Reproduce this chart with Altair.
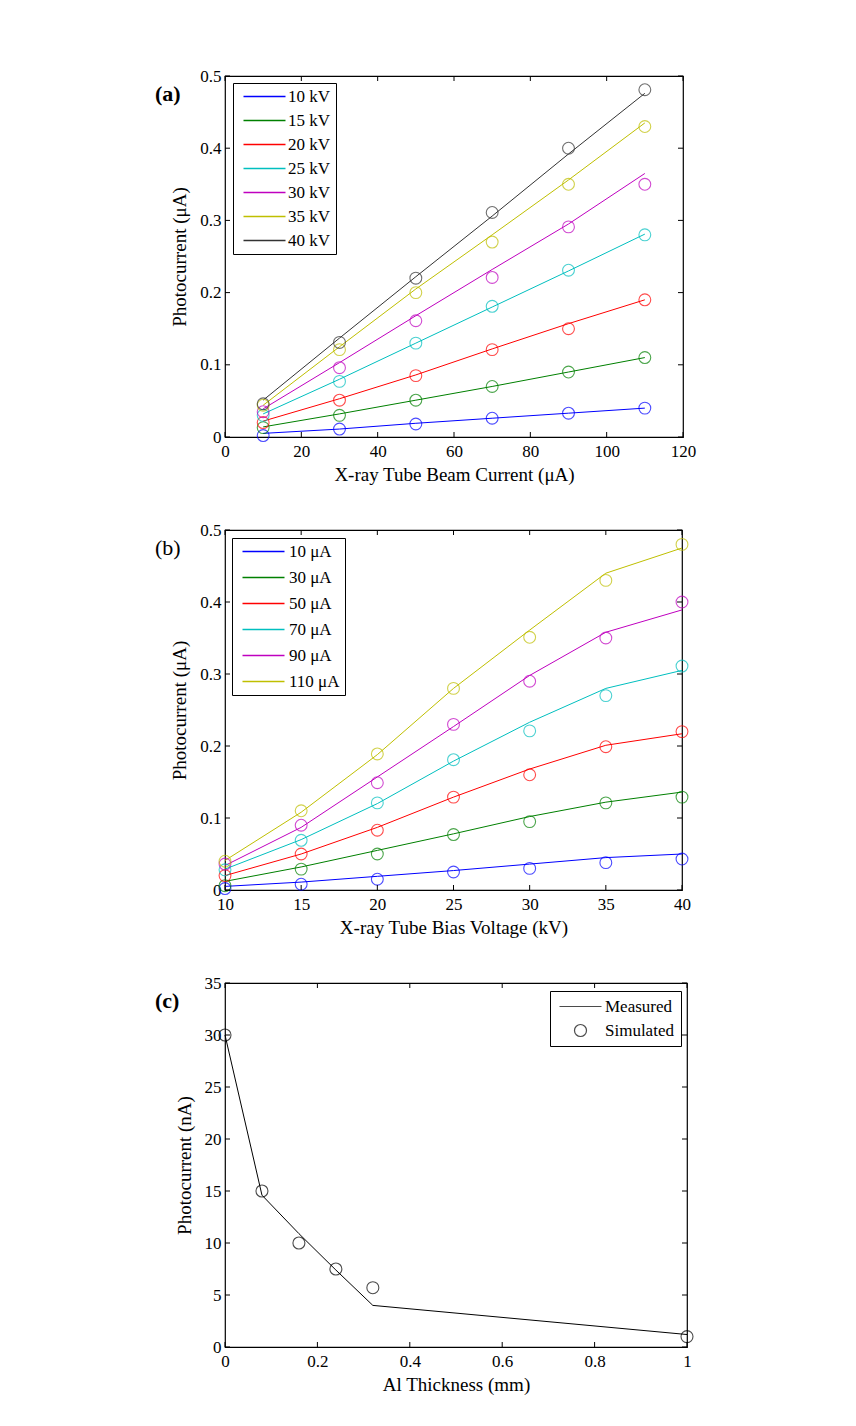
import altair as alt
import pandas as pd

FONT = "Liberation Serif"

# ---------------- Panel (a) ----------------
a_current = [10, 30, 50, 70, 90, 110]
a_series = ["10 kV", "15 kV", "20 kV", "25 kV", "30 kV", "35 kV", "40 kV"]
a_circles = [
    [0.002, 0.011, 0.018, 0.026, 0.033, 0.040],
    [0.013, 0.030, 0.051, 0.070, 0.090, 0.110],
    [0.020, 0.051, 0.085, 0.121, 0.150, 0.190],
    [0.030, 0.077, 0.130, 0.181, 0.231, 0.280],
    [0.035, 0.096, 0.161, 0.221, 0.291, 0.350],
    [0.044, 0.121, 0.200, 0.270, 0.350, 0.430],
    [0.046, 0.131, 0.220, 0.311, 0.400, 0.481],
]
a_lines = [
    [0.005, 0.011, 0.019, 0.026, 0.033, 0.040],
    [0.014, 0.032, 0.051, 0.070, 0.090, 0.110],
    [0.022, 0.053, 0.086, 0.122, 0.157, 0.190],
    [0.032, 0.080, 0.130, 0.180, 0.230, 0.281],
    [0.039, 0.103, 0.168, 0.232, 0.295, 0.365],
    [0.044, 0.125, 0.205, 0.280, 0.356, 0.435],
    [0.051, 0.137, 0.222, 0.306, 0.392, 0.476],
]
a_xticks = [0, 20, 40, 60, 80, 100, 120]
a_yticks = [0, 0.1, 0.2, 0.3, 0.4, 0.5]

# ---------------- Panel (b) ----------------
b_voltage = [10, 15, 20, 25, 30, 35, 40]
b_series = ["10 μA", "30 μA", "50 μA", "70 μA", "90 μA", "110 μA"]
b_circles = [
    [0.002, 0.008, 0.015, 0.025, 0.030, 0.038, 0.043],
    [0.006, 0.029, 0.050, 0.077, 0.095, 0.121, 0.129],
    [0.020, 0.050, 0.083, 0.129, 0.160, 0.199, 0.220],
    [0.028, 0.069, 0.121, 0.181, 0.221, 0.270, 0.311],
    [0.036, 0.090, 0.149, 0.230, 0.290, 0.350, 0.400],
    [0.040, 0.110, 0.189, 0.280, 0.351, 0.430, 0.480],
]
b_lines = [
    [0.005, 0.011, 0.019, 0.027, 0.036, 0.045, 0.050],
    [0.012, 0.032, 0.055, 0.078, 0.102, 0.122, 0.136],
    [0.020, 0.050, 0.087, 0.129, 0.168, 0.201, 0.217],
    [0.029, 0.070, 0.120, 0.179, 0.233, 0.280, 0.305],
    [0.034, 0.087, 0.157, 0.227, 0.298, 0.358, 0.389],
    [0.041, 0.108, 0.188, 0.280, 0.361, 0.440, 0.475],
]
b_xticks = [10, 15, 20, 25, 30, 35, 40]
b_yticks = [0, 0.1, 0.2, 0.3, 0.4, 0.5]

# ---------------- Panel (c) ----------------
c_thick_meas = [0, 0.08, 0.16, 0.24, 0.32, 1.0]
c_measured = [30.0, 14.6, 10.9, 7.4, 4.0, 1.2]
c_thick_sim = [0, 0.08, 0.16, 0.24, 0.32, 1.0]
c_simulated = [30.0, 15.0, 10.0, 7.5, 5.7, 1.0]
c_series = ["Measured", "Simulated"]
c_xticks = [0, 0.2, 0.4, 0.6, 0.8, 1.0]
c_yticks = [0, 5, 10, 15, 20, 25, 30, 35]

colors7 = ["#0000ff", "#008000", "#ff0000", "#00bfbf", "#bf00bf", "#bfbf00", "#333333"]
colors6 = colors7[:6]

DEC_EXPR = "datum.value == 0 ? '0' : datum.value == 1 ? '1' : format(datum.value, '.1f')"


def long_df(xs, series, values):
    rows = []
    for name, vals in zip(series, values):
        for x, v in zip(xs, vals):
            rows.append({"x": x, "y": v, "s": name})
    return pd.DataFrame(rows)


def axis_x(title, values, label_expr=None):
    kw = dict(title=title, values=values, domain=False, ticks=False, grid=False,
              labelFont=FONT, labelFontSize=17, labelColor="black", labelPadding=6,
              labelFlush=False, labelOverlap=False,
              titleFont=FONT, titleFontSize=19, titleFontWeight="normal",
              titleColor="black", titlePadding=6)
    if label_expr:
        kw["labelExpr"] = label_expr
    return alt.Axis(**kw)


def axis_y(title, values, label_expr=None):
    kw = dict(title=title, values=values, domain=False, ticks=False, grid=False,
              labelFont=FONT, labelFontSize=17, labelColor="black", labelPadding=4,
              labelFlush=False, labelOverlap=False,
              titleFont=FONT, titleFontSize=19, titleFontWeight="normal",
              titleColor="black", titlePadding=10)
    if label_expr:
        kw["labelExpr"] = label_expr
    return alt.Axis(**kw)


def inward_ticks(xvals, yvals, xs, ys, ax, ay, W, H, L=5):
    dx = pd.DataFrame({"v": xvals})
    dy = pd.DataFrame({"v": yvals})
    X = alt.X("v:Q", scale=xs, axis=ax)
    Y = alt.Y("v:Q", scale=ys, axis=ay)
    rc = dict(color="black", strokeWidth=1)
    bottom = alt.Chart(dx).mark_rule(**rc).encode(x=X, y=alt.value(H), y2=alt.value(H - L))
    top = alt.Chart(dx).mark_rule(**rc).encode(x=X, y=alt.value(0), y2=alt.value(L))
    left = alt.Chart(dy).mark_rule(**rc).encode(y=Y, x=alt.value(0), x2=alt.value(L))
    right = alt.Chart(dy).mark_rule(**rc).encode(y=Y, x=alt.value(W), x2=alt.value(W - L))
    return [bottom, top, left, right]


def tag(text, bold):
    return alt.Chart(pd.DataFrame({"t": [text]})).mark_text(
        font=FONT, fontSize=22, fontWeight="bold" if bold else "normal",
        align="left", baseline="middle", color="black"
    ).encode(text="t:N", x=alt.value(-70), y=alt.value(18))


def series_panel(xs_vals, series, circles, lines, colors, xdom, ydom, xticks, yticks,
                 xtitle, ytitle, W, H, legend_kw, label, bold):
    xs = alt.Scale(domain=xdom, nice=False, zero=False)
    ys = alt.Scale(domain=ydom, nice=False, zero=False)
    ax = axis_x(xtitle, xticks)
    ay = axis_y(ytitle, yticks, DEC_EXPR)
    dl = long_df(xs_vals, series, lines)
    dc = long_df(xs_vals, series, circles)
    line = alt.Chart(dl).mark_line(strokeWidth=1).encode(
        x=alt.X("x:Q", scale=xs, axis=ax),
        y=alt.Y("y:Q", scale=ys, axis=ay),
        color=alt.Color("s:N", scale=alt.Scale(domain=series, range=colors), sort=series,
                        legend=alt.Legend(title=None, orient="none", strokeColor="black",
                                          fillColor="white", symbolType="M-0.5,0L6.5,0",
                                          symbolSize=144, symbolStrokeWidth=1.3,
                                          labelFont=FONT, labelFontSize=17, labelColor="black",
                                          **legend_kw)),
        detail="s:N",
    )
    pts = alt.Chart(dc).mark_point(filled=False, size=140, strokeWidth=1.1).encode(
        x=alt.X("x:Q", scale=xs, axis=ax),
        y=alt.Y("y:Q", scale=ys, axis=ay),
        stroke=alt.Stroke("s:N", scale=alt.Scale(domain=series, range=colors), legend=None),
    )
    layers = [line, pts] + inward_ticks(xticks, yticks, xs, ys, ax, ay, W, H) + [tag(label, bold)]
    return alt.layer(*layers).properties(width=W, height=H)


panel_a = series_panel(a_current, a_series, a_circles, a_lines, colors7, [0, 120], [0, 0.5],
                       a_xticks, a_yticks, "X-ray Tube Beam Current (μA)", "Photocurrent (μA)",
                       458, 361,
                       dict(legendX=8, legendY=7, padding=5, rowPadding=6, labelOffset=33),
                       "(a)", True)

panel_b = series_panel(b_voltage, b_series, b_circles, b_lines, colors6, [10, 40], [0, 0.5],
                       b_xticks, b_yticks, "X-ray Tube Bias Voltage (kV)", "Photocurrent (μA)",
                       457, 360,
                       dict(legendX=7, legendY=8, padding=5, rowPadding=8, labelOffset=35),
                       "(b)", False)

# panel c
Wc, Hc = 462, 364
xs_c = alt.Scale(domain=[0, 1], nice=False, zero=False)
ys_c = alt.Scale(domain=[0, 35], nice=False, zero=False)
ax_c = axis_x("Al Thickness (mm)", c_xticks, DEC_EXPR)
ay_c = axis_y("Photocurrent (nA)", c_yticks)
dm = pd.DataFrame({"x": c_thick_meas, "y": c_measured})
dsim = pd.DataFrame({"x": c_thick_sim, "y": c_simulated, "s": ["Simulated"] * len(c_thick_sim)})
c_line = alt.Chart(dm).mark_line(color="black", strokeWidth=1).encode(
    x=alt.X("x:Q", scale=xs_c, axis=ax_c),
    y=alt.Y("y:Q", scale=ys_c, axis=ay_c),
)
c_pts = alt.Chart(dsim).mark_point(filled=False, size=144, strokeWidth=1.1, color="black").encode(
    x=alt.X("x:Q", scale=xs_c, axis=ax_c),
    y=alt.Y("y:Q", scale=ys_c, axis=ay_c),
    shape=alt.Shape("s:N", scale=alt.Scale(domain=c_series, range=["M-3.5,0L3.5,0", "circle"]),
                    legend=alt.Legend(title=None, orient="none", legendX=325, legendY=8,
                                      strokeColor="black", fillColor="white", padding=7,
                                      rowPadding=6, symbolOffset=15, symbolSize=144,
                                      symbolStrokeColor="black", symbolStrokeWidth=1.2,
                                      symbolFillColor="transparent",
                                      labelFont=FONT, labelFontSize=17, labelColor="black",
                                      labelOffset=16)),
)
panel_c = alt.layer(c_line, c_pts, *inward_ticks(c_xticks, c_yticks, xs_c, ys_c, ax_c, ay_c, Wc, Hc),
                    tag("(c)", True)).properties(width=Wc, height=Hc)

chart = alt.vconcat(panel_a, panel_b, panel_c, spacing=35).resolve_scale(
    color="independent", stroke="independent", shape="independent", x="independent", y="independent"
).properties(
    padding={"left": 146, "top": 58, "right": 5, "bottom": 5},
    background="white",
).configure_view(stroke="black", strokeWidth=1.2)

chart.save("out.html", embed_options={"renderer": "svg", "actions": False})
